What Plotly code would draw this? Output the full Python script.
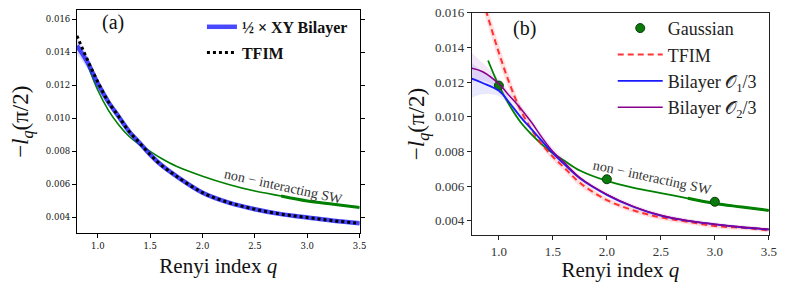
import plotly.graph_objects as go

# ---------------- Panel (a) data ----------------
q_a = [0.80, 0.90, 1.00, 1.10, 1.20, 1.30, 1.40, 1.50, 1.60, 1.75, 2.00, 2.25, 2.50, 2.75, 3.00, 3.25, 3.50]
tfim_a = [0.0150, 0.01355, 0.0122, 0.0110, 0.0101, 0.0092, 0.0085, 0.0078, 0.0072, 0.0065, 0.0055, 0.0049, 0.0045, 0.0042, 0.0040, 0.0038, 0.00365]
bilayer_a = [0.0144, 0.0134, 0.0121, 0.0110, 0.0101, 0.0092, 0.0085, 0.0078, 0.0072, 0.0065, 0.0055, 0.0049, 0.0045, 0.0042, 0.0040, 0.0038, 0.00365]
bilayer_a_err = [0.0005, 0.0004, 0.0003, 0.0002, 0.00015, 0.0001, 0.0001, 0.0001, 0.0001, 0.0001, 0.0001, 0.0001, 0.0001, 0.0001, 0.0001, 0.0001, 0.0001]
q_sw_a = [0.90, 1.00, 1.10, 1.20, 1.30, 1.40, 1.50, 1.60, 1.75, 2.00, 2.25, 2.50, 2.75, 3.00, 3.25, 3.50]
sw_a = [0.0133, 0.0117, 0.0105, 0.0096, 0.0089, 0.0084, 0.0080, 0.0076, 0.0071, 0.0065, 0.0060, 0.0056, 0.0053, 0.0050, 0.0048, 0.0046]

# ---------------- Panel (b) data ----------------
q_b = [0.75, 0.85, 1.00, 1.10, 1.20, 1.30, 1.40, 1.50, 1.60, 1.75, 2.00, 2.25, 2.50, 2.75, 3.00, 3.25, 3.50]
o1_b = [0.0122, 0.01195, 0.0115, 0.0108, 0.0100, 0.0093, 0.0086, 0.0079, 0.0073, 0.00645, 0.0055, 0.0048, 0.0043, 0.0040, 0.0038, 0.00363, 0.0035]
o1_lo = [0.0111, 0.0113, 0.0112, 0.0106, 0.0099, 0.0092, 0.0085, 0.0078, 0.0072, 0.0064, 0.00545, 0.00475, 0.00425, 0.00395, 0.00375, 0.0036, 0.00345]
o1_hi = [0.0131, 0.0126, 0.0118, 0.0110, 0.0101, 0.0094, 0.0087, 0.0080, 0.0074, 0.0065, 0.00555, 0.00485, 0.00435, 0.00405, 0.00385, 0.00366, 0.00355]
o2_b = [0.0128, 0.0126, 0.0119, 0.0112, 0.0105, 0.0097, 0.0088, 0.0080, 0.0074, 0.0065, 0.00553, 0.00482, 0.00432, 0.00401, 0.00381, 0.00364, 0.00351]
o2_lo = [0.0120, 0.0121, 0.0116, 0.0110, 0.0103, 0.0095, 0.0086, 0.0078, 0.0072, 0.0064, 0.0054, 0.0047, 0.0042, 0.0039, 0.0037, 0.00355, 0.00343]
o2_hi = [0.0137, 0.0131, 0.0122, 0.0114, 0.0107, 0.0099, 0.0090, 0.0082, 0.0076, 0.0066, 0.00566, 0.00494, 0.00444, 0.00412, 0.00392, 0.00373, 0.0036]
q_tfim_b = [0.80, 0.887, 1.00, 1.10, 1.20, 1.30, 1.40, 1.50, 1.60, 1.75, 2.00, 2.25, 2.50, 2.75, 3.00, 3.25, 3.50]
tfim_b = [0.0178, 0.0160, 0.0137, 0.0119, 0.0104, 0.0093, 0.0084, 0.0077, 0.0071, 0.0062, 0.0052, 0.0046, 0.0042, 0.00395, 0.0037, 0.0036, 0.00345]
tfim_b_lo = [0.0172, 0.0155, 0.0132, 0.0115, 0.0101, 0.0091, 0.0082, 0.0075, 0.0069, 0.0060, 0.00505, 0.00445, 0.00405, 0.0038, 0.00357, 0.00347, 0.00333]
tfim_b_hi = [0.0184, 0.0165, 0.0142, 0.0123, 0.0107, 0.0095, 0.0086, 0.0079, 0.0073, 0.0064, 0.00535, 0.00475, 0.00435, 0.0041, 0.00383, 0.00373, 0.00357]
q_sw_b = [0.90, 1.00, 1.10, 1.20, 1.30, 1.40, 1.50, 1.60, 1.75, 2.00, 2.25, 2.50, 2.75, 3.00, 3.25, 3.50]
sw_b = [0.01325, 0.0118, 0.01065, 0.0097, 0.0090, 0.0084, 0.0079, 0.0075, 0.0069, 0.0063, 0.0059, 0.0056, 0.0053, 0.0050, 0.0048, 0.0046]
q_gauss = [1.0, 2.0, 3.0]
gauss = [0.0118, 0.0064, 0.0051]

x_ticks = [1.0, 1.5, 2.0, 2.5, 3.0, 3.5]
x_labels = ["1.0", "1.5", "2.0", "2.5", "3.0", "3.5"]
y_ticks = [0.004, 0.006, 0.008, 0.010, 0.012, 0.014, 0.016]
y_labels = ["0.004", "0.006", "0.008", "0.010", "0.012", "0.014", "0.016"]
THICK_FROM = 2.6

SERIF = "Liberation Serif, DejaVu Serif, serif"
W, H = 789, 282
XR_B = [0.75, 3.5]
YR_B = [0.00317, 0.016002]

fig = go.Figure()

# ----- panel (a) -----
fig.add_trace(go.Scatter(x=q_a, y=[v - e for v, e in zip(bilayer_a, bilayer_a_err)], mode="lines",
                         line=dict(width=0, shape="spline"), showlegend=False, hoverinfo="skip",
                         xaxis="x", yaxis="y"))
fig.add_trace(go.Scatter(x=q_a, y=[v + e for v, e in zip(bilayer_a, bilayer_a_err)], mode="lines",
                         line=dict(width=0, shape="spline"), fill="tonexty", fillcolor="rgba(60,60,255,0.18)",
                         showlegend=False, hoverinfo="skip", xaxis="x", yaxis="y"))
fig.add_trace(go.Scatter(x=q_sw_a, y=sw_a, mode="lines", line=dict(color="#008000", width=1.6, shape="spline"),
                         showlegend=False, xaxis="x", yaxis="y"))
fig.add_trace(go.Scatter(x=[q for q in q_sw_a if q >= THICK_FROM], y=[v for q, v in zip(q_sw_a, sw_a) if q >= THICK_FROM],
                         mode="lines", line=dict(color="#008000", width=3, shape="spline"),
                         showlegend=False, xaxis="x", yaxis="y"))
fig.add_trace(go.Scatter(x=q_a, y=bilayer_a, mode="lines", name="<b>½ × XY Bilayer</b>", legendgroup="a1",
                         line=dict(color="rgba(40,40,255,0.85)", width=4.5, shape="spline"),
                         legend="legend", xaxis="x", yaxis="y"))
fig.add_trace(go.Scatter(x=q_a, y=tfim_a, mode="lines", name="<b>TFIM</b>", legendgroup="a2",
                         line=dict(color="black", width=3, dash="dot", shape="spline"),
                         legend="legend", xaxis="x", yaxis="y"))

# ----- panel (b) -----
def band(lo, hi, qs, color):
    fig.add_trace(go.Scatter(x=qs, y=lo, mode="lines", line=dict(width=0, shape="spline"), showlegend=False,
                             hoverinfo="skip", xaxis="x2", yaxis="y2"))
    fig.add_trace(go.Scatter(x=qs, y=hi, mode="lines", line=dict(width=0, shape="spline"), fill="tonexty",
                             fillcolor=color, showlegend=False, hoverinfo="skip", xaxis="x2", yaxis="y2"))

band(tfim_b_lo, tfim_b_hi, q_tfim_b, "rgba(255,80,80,0.18)")
band(o1_lo, o1_hi, q_b, "rgba(80,80,255,0.13)")
band(o2_lo, o2_hi, q_b, "rgba(160,60,200,0.12)")

fig.add_trace(go.Scatter(x=q_sw_b, y=sw_b, mode="lines", line=dict(color="#008000", width=1.8, shape="spline"),
                         showlegend=False, xaxis="x2", yaxis="y2"))
fig.add_trace(go.Scatter(x=[q for q in q_sw_b if q >= THICK_FROM], y=[v for q, v in zip(q_sw_b, sw_b) if q >= THICK_FROM],
                         mode="lines", line=dict(color="#008000", width=3, shape="spline"),
                         showlegend=False, xaxis="x2", yaxis="y2"))
fig.add_trace(go.Scatter(x=q_gauss, y=gauss, mode="markers", name="Gaussian",
                         marker=dict(color="#0a7a0a", size=9, line=dict(color="#0b3b0b", width=1)),
                         legend="legend2", xaxis="x2", yaxis="y2"))
fig.add_trace(go.Scatter(x=q_tfim_b, y=tfim_b, mode="lines", name="TFIM",
                         line=dict(color="rgba(255,30,30,0.9)", width=2, dash="6px,4px", shape="spline"),
                         legend="legend2", xaxis="x2", yaxis="y2"))
fig.add_trace(go.Scatter(x=q_b, y=o1_b, mode="lines", name="Bilayer 𝒪<sub>1</sub>/3",
                         line=dict(color="#1a1aff", width=1.8, shape="spline"),
                         legend="legend2", xaxis="x2", yaxis="y2"))
fig.add_trace(go.Scatter(x=q_b, y=o2_b, mode="lines", name="Bilayer 𝒪<sub>2</sub>/3",
                         line=dict(color="#8a008a", width=1.5, shape="spline"),
                         legend="legend2", xaxis="x2", yaxis="y2"))

# ----- axes -----
ya_title = "−<i>l</i><sub><i>q</i></sub>(π/2)"
xa_title = "Renyi index <i>q</i>"
dom_xb = [476.7 / W, 776.7 / W]
dom_yb = [1 - 237.5 / H, 1 - 6 / H]

fig.update_layout(
    width=W, height=H, margin=dict(l=0, r=0, t=0, b=0),
    paper_bgcolor="white", plot_bgcolor="white",
    xaxis=dict(domain=[77.7 / W, 363.3 / W], range=[0.8, 3.5], tickvals=x_ticks, ticktext=x_labels,
               showgrid=False, zeroline=False, showline=True, linecolor="black", linewidth=1, mirror=True,
               ticks="outside", ticklen=4, tickcolor="black",
               tickfont=dict(family="DejaVu Serif", size=8.5, color="#111"),
               title=dict(text=xa_title, font=dict(family=SERIF, size=21, color="#111"), standoff=8),
               anchor="y"),
    yaxis=dict(domain=[1 - 235.5 / H, 1 - 3.3 / H], range=[0.00304, 0.01655], tickvals=y_ticks, ticktext=y_labels,
               showgrid=False, zeroline=False, showline=True, linecolor="black", linewidth=1, mirror="ticks",
               ticks="outside", ticklen=4, tickcolor="black",
               tickfont=dict(family="DejaVu Serif", size=8.5, color="#111"),
               title=dict(text=ya_title, font=dict(family=SERIF, size=23, color="#111"), standoff=10),
               anchor="x"),
    xaxis2=dict(domain=dom_xb, range=XR_B, tickvals=x_ticks, ticktext=x_labels,
                showgrid=False, zeroline=False, showline=True, linecolor="#222", linewidth=1.2, mirror=True,
                ticks="outside", ticklen=4, tickcolor="#222",
                tickfont=dict(family=SERIF, size=13, color="#333"),
                title=dict(text=xa_title, font=dict(family=SERIF, size=21, color="#111"), standoff=8),
                anchor="y2"),
    yaxis2=dict(domain=dom_yb, range=YR_B, tickvals=y_ticks, ticktext=y_labels,
                showgrid=False, zeroline=False, showline=True, linecolor="#222", linewidth=1.2, mirror=True,
                ticks="outside", ticklen=4, tickcolor="#222", ticklabeloverflow="allow",
                tickfont=dict(family=SERIF, size=13, color="#333"),
                title=dict(text=ya_title, font=dict(family=SERIF, size=23, color="#111"), standoff=3),
                anchor="x2"),
    # inward ticks on the top and right edges of panel (b)
    xaxis3=dict(overlaying="x2", side="top", anchor="y2", range=XR_B, tickvals=x_ticks,
                showticklabels=False, showgrid=False, zeroline=False, showline=False,
                ticks="inside", ticklen=4, tickcolor="#222"),
    yaxis3=dict(overlaying="y2", side="right", anchor="x2", range=YR_B, tickvals=y_ticks,
                showticklabels=False, showgrid=False, zeroline=False, showline=False,
                ticks="inside", ticklen=4, tickcolor="#222"),
    legend=dict(x=204 / W, y=1 - 3 / H, xanchor="left", yanchor="top", bgcolor="rgba(0,0,0,0)",
                traceorder="grouped", tracegroupgap=2,
                font=dict(family=SERIF, size=16, color="#111"), itemwidth=30),
    legend2=dict(x=619 / W, y=1 - 3 / H, xanchor="left", yanchor="top", bgcolor="rgba(0,0,0,0)",
                 traceorder="normal",
                 font=dict(family=SERIF, size=18, color="#222"), itemwidth=45),
    annotations=[
        dict(text="(a)", x=114 / W, y=1 - 16 / H, xref="paper", yref="paper", showarrow=False,
             xanchor="center", yanchor="middle", font=dict(family=SERIF, size=20, color="#111")),
        dict(text="(b)", x=530 / W, y=1 - 22 / H, xref="paper", yref="paper", showarrow=False,
             xanchor="center", yanchor="middle", font=dict(family=SERIF, size=20, color="#111")),
        dict(text="non − interacting SW", x=286 / W, y=1 - 187 / H, xref="paper", yref="paper", showarrow=False,
             xanchor="center", yanchor="middle", textangle=12.4, font=dict(family=SERIF, size=14, color="#333")),
        dict(text="non − interacting SW", x=659 / W, y=1 - 177 / H, xref="paper", yref="paper", showarrow=False,
             xanchor="center", yanchor="middle", textangle=12.2, font=dict(family=SERIF, size=14, color="#333")),
    ],
)

fig.write_html("out.html", config={"displayModeBar": False},
               post_script="document.body.style.margin='0px';")
